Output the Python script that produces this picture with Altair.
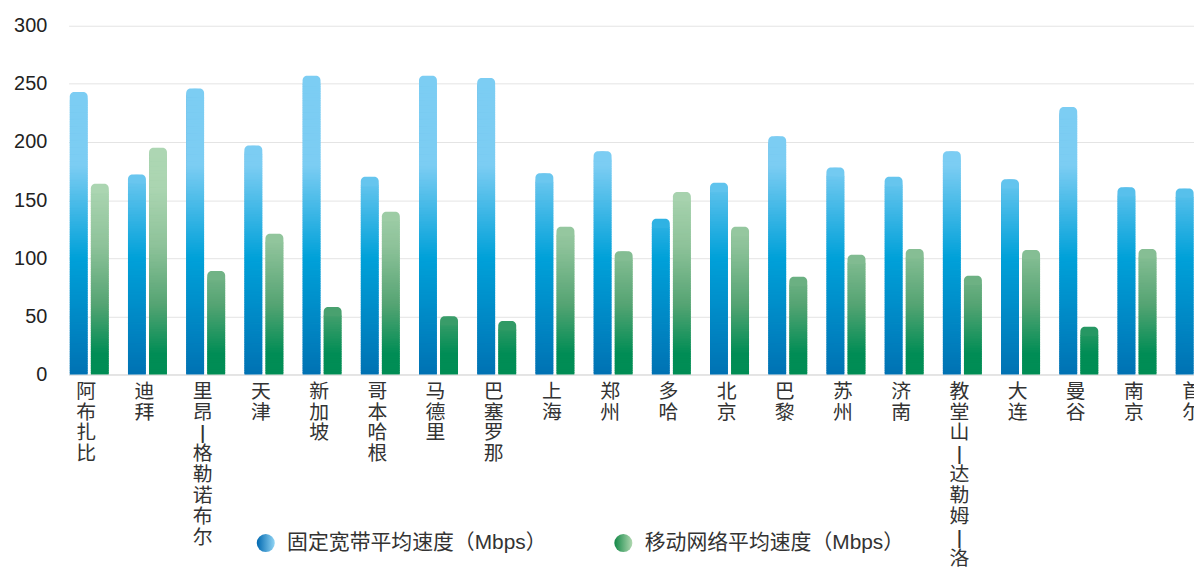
import altair as alt
import pandas as pd

# ---------------- data ----------------
cities = ["阿布扎比", "迪拜", "里昂-格勒诺布尔", "天津", "新加坡", "哥本哈根", "马德里",
          "巴塞罗那", "上海", "郑州", "多哈", "北京", "巴黎", "苏州", "济南",
          "教堂山-达勒姆-洛丽", "大连", "曼谷", "南京", "首尔"]
fixed_speed = [243, 172, 246, 197, 257, 170, 257, 255, 173, 192, 134, 165, 205, 178, 170,
               192, 168, 230, 161, 160]
mobile_speed = [164, 195, 89, 121, 58, 140, 50, 46, 127, 106, 157, 127, 84, 103, 108,
                85, 107, 41, 108, 107]
series = ["固定宽带平均速度（Mbps）", "移动网络平均速度（Mbps）"]
y_ticks = [0, 50, 100, 150, 200, 250, 300]

# ---------------- tables built from the arrays ----------------
SEG = 1.5   # height of one gradient slice (data units)
CAP = 8     # rounded cap height (data units)

bars = pd.DataFrame(
    [{"city": c, "s": series[0], "value": v} for c, v in zip(cities, fixed_speed)]
    + [{"city": c, "s": series[1], "value": v} for c, v in zip(cities, mobile_speed)]
)
bars["capLo"] = bars["value"] - CAP
bars["capMid"] = bars["value"] - CAP / 2


def slices(vals, s):
    rows = []
    for c, v in zip(cities, vals):
        top = v - CAP
        lo = 0.0
        while lo < top:
            rows.append({"city": c, "s": s, "lo": lo,
                         "hi": min(lo + SEG + 0.6, top + 0.6), "mid": lo + SEG / 2})
            lo += SEG
    return pd.DataFrame(rows)


seg_fixed = slices(fixed_speed, series[0])
seg_mobile = slices(mobile_speed, series[1])

# ---------------- scales ----------------
PLOT_W = 1155   # full band range (the picture is cut at the right edge)
VIEW_W = 1133
VIEW_H = 351

blue_scale = alt.Scale(domain=[0, 100, 180, 300],
                       range=["#0072b3", "#00a1d9", "#7ccdf3", "#7ccdf3"],
                       interpolate="rgb")
green_scale = alt.Scale(domain=[0, 18, 60, 110, 160, 300],
                        range=["#008d55", "#008d55", "#55a473", "#8dc299", "#abd5b1", "#b3dbb8"],
                        interpolate="rgb")

X = alt.X("city:N", sort=cities,
          scale=alt.Scale(domain=cities, paddingInner=0.33, paddingOuter=0.02,
                          range=[0, PLOT_W]),
          axis=alt.Axis(title=None,
                        labelExpr="split(replace(replace(datum.label,'-','ǀ'),'-','ǀ'),'')"))
XO = alt.XOffset("s:N", scale=alt.Scale(domain=series, paddingInner=0.15, paddingOuter=0))
Yscale = alt.Scale(domain=[0, 300])
Yaxis = alt.Axis(title=None, values=y_ticks)

legend_range = [
    alt.ExprRef(expr="{gradient: 'linear', stops: [{offset: 0, color: '#0068b0'}, {offset: 1, color: '#90d4f4'}]}"),
    alt.ExprRef(expr="{gradient: 'linear', stops: [{offset: 0, color: '#138847'}, {offset: 1, color: '#b0d8b0'}]}"),
]

base = alt.Chart(bars).mark_bar(cornerRadiusTopLeft=8.5, cornerRadiusTopRight=8.5).encode(
    x=X, xOffset=XO,
    y=alt.Y("value:Q", scale=Yscale, axis=Yaxis),
    color=alt.Color("s:N", scale=alt.Scale(domain=series, range=legend_range),
                    legend=alt.Legend(title=None, orient="none", legendX=188, legendY=510,
                                      direction="horizontal", symbolType="circle",
                                      symbolSize=330, symbolStrokeWidth=0,
                                      labelFont="Liberation Sans, Noto Sans CJK SC",
                                      labelFontSize=21, labelColor="#333",
                                      labelLimit=600, columnPadding=66, labelOffset=11,
                                      padding=0)),
)

blue_seg = alt.Chart(seg_fixed).mark_bar().encode(
    x=X, xOffset=XO,
    y=alt.Y("lo:Q", scale=Yscale, axis=Yaxis), y2="hi:Q",
    color=alt.Color("mid:Q", scale=blue_scale, legend=None),
)
green_seg = alt.Chart(seg_mobile).mark_bar().encode(
    x=X, xOffset=XO,
    y=alt.Y("lo:Q", scale=Yscale, axis=Yaxis), y2="hi:Q",
    color=alt.Color("mid:Q", scale=green_scale, legend=None),
)
blue_cap = alt.Chart(bars[bars["s"] == series[0]]).mark_bar(
    cornerRadiusTopLeft=8.5, cornerRadiusTopRight=8.5).encode(
    x=X, xOffset=XO,
    y=alt.Y("capLo:Q", scale=Yscale, axis=Yaxis), y2="value:Q",
    color=alt.Color("capMid:Q", scale=blue_scale, legend=None),
)
green_cap = alt.Chart(bars[bars["s"] == series[1]]).mark_bar(
    cornerRadiusTopLeft=8.5, cornerRadiusTopRight=8.5).encode(
    x=X, xOffset=XO,
    y=alt.Y("capLo:Q", scale=Yscale, axis=Yaxis), y2="value:Q",
    color=alt.Color("capMid:Q", scale=green_scale, legend=None),
)

chart = alt.layer(base, blue_seg, green_seg, blue_cap, green_cap).resolve_scale(
    color="independent"
).properties(
    width=VIEW_W, height=VIEW_H,
    autosize=alt.AutoSizeParams(type="none"),
    padding={"left": 61, "top": 16, "right": 0, "bottom": 192},
    background="white",
).configure_view(stroke=None).configure_axisY(
    labelFont="Liberation Sans", labelFontSize=20, labelColor="#222",
    ticks=False, domain=False, gridColor="#e4e4e4", gridWidth=1, labelPadding=22,
).configure_axisX(
    grid=False, ticks=False, domainColor="#e0e0e0", domainWidth=1.5,
    labelFont="Noto Sans CJK SC, DejaVu Sans", labelFontSize=20, labelColor="#333",
    labelLineHeight=21, labelAngle=0, labelBaseline="top", labelAlign="center",
    labelPadding=7, labelOffset=-3, labelLimit=1000, labelOverlap=False,
)

chart.save("out.html", embed_options={"renderer": "svg", "actions": False})
